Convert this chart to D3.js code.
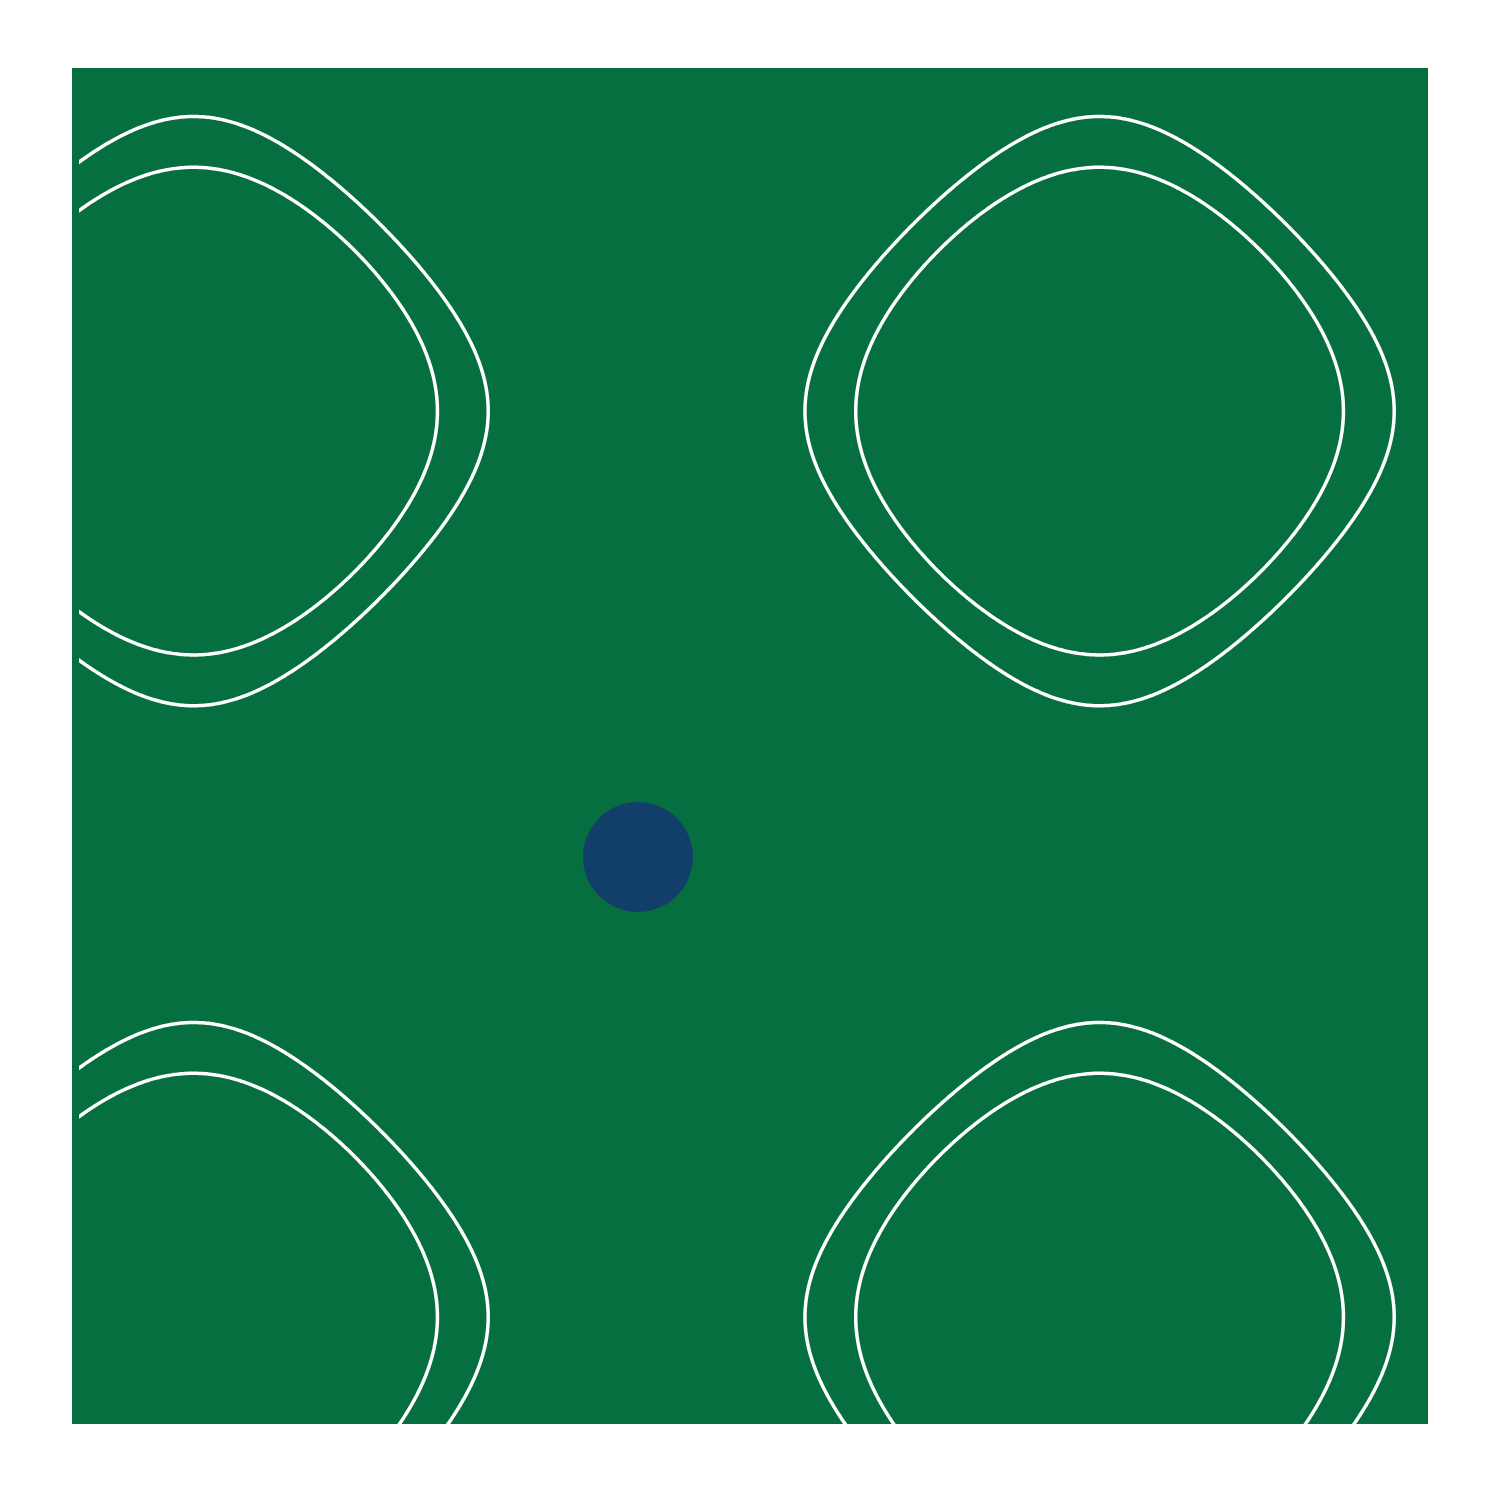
<!DOCTYPE html>
<html><head><meta charset="utf-8">
<script src="https://cdn.jsdelivr.net/npm/d3@7"></script>
<style>body{margin:0;background:#fff}</style>
</head><body>
<svg id="c" width="1500" height="1500"></svg>
<script>
// data
const xDomain = [0, 9.404];
const yDomain = [0, 9.404];
const peakCenter = [0.837, 0.735];     // phase of the periodic field (radians)
const thresholds = [0.545, 0.88];      // contour levels
const points = [{x: 3.925, y: 3.932}]; // marker

const plot = {left: 72, top: 68, right: 1428, bottom: 1424};
const svg = d3.select("#c");
const x = d3.scaleLinear().domain(xDomain).range([plot.left, plot.right]);
const y = d3.scaleLinear().domain(yDomain).range([plot.bottom, plot.top]);

svg.append("rect").attr("x", plot.left).attr("y", plot.top)
  .attr("width", plot.right - plot.left).attr("height", plot.bottom - plot.top)
  .attr("fill", "#066f3f");

const field = (a, b) => Math.cos(a - peakCenter[0]) + Math.cos(b - peakCenter[1]);

const g0 = -0.3, g1 = 9.7, n = 800, step = (g1 - g0) / (n - 1);
const values = new Float64Array(n * n);
for (let j = 0; j < n; j++) for (let i = 0; i < n; i++)
  values[i + j * n] = field(g0 + i * step, g0 + j * step);

const contours = d3.contours().size([n, n]).thresholds(thresholds)(values);
const path = d3.geoPath(d3.geoTransform({
  point(px, py) { this.stream.point(x(g0 + px * step), y(g0 + py * step)); }
}));

svg.append("clipPath").attr("id", "clip").append("rect")
  .attr("x", 79).attr("y", plot.top)
  .attr("width", plot.right - 79).attr("height", plot.bottom - plot.top);

svg.append("g").attr("clip-path", "url(#clip)")
  .selectAll("path").data(contours).join("path")
  .attr("d", path).attr("fill", "none")
  .attr("stroke", "#fff").attr("stroke-width", 3.5);

svg.append("g").selectAll("circle").data(points).join("circle")
  .attr("cx", d => x(d.x)).attr("cy", d => y(d.y)).attr("r", 55)
  .attr("fill", "#123f69");
</script>
</body></html>
